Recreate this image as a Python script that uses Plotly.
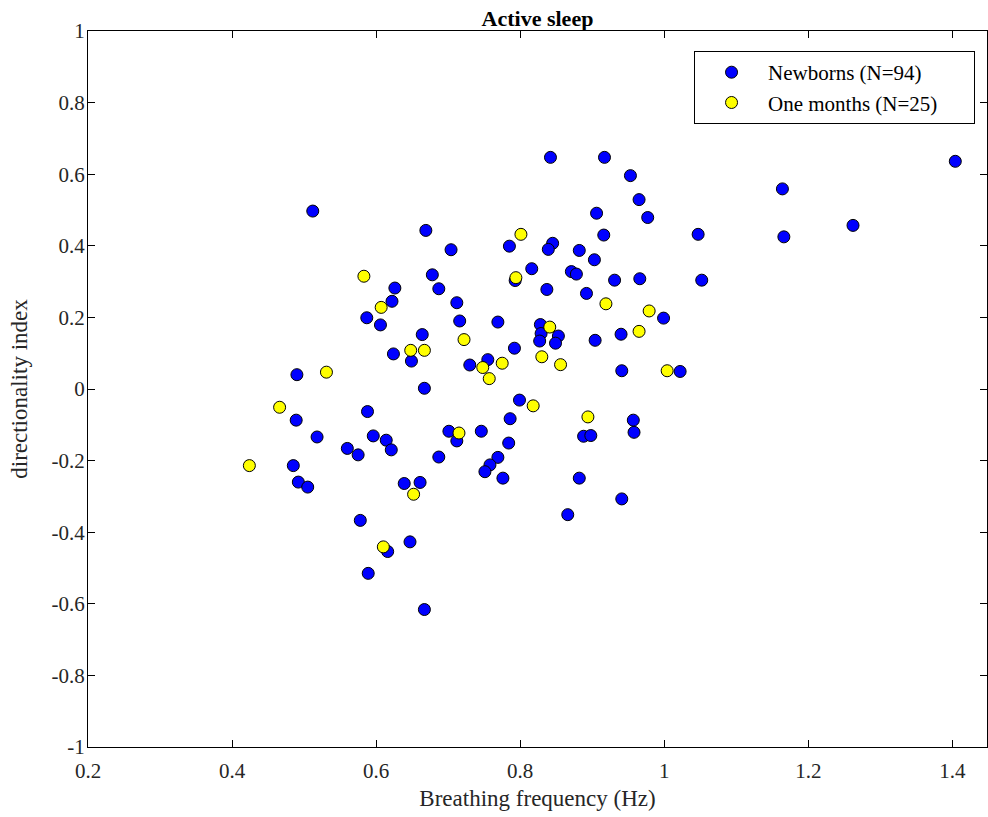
import plotly.graph_objects as go

# Newborns (N=94)
newborn_freq = [0.512, 0.669, 0.704, 0.678, 0.626, 0.687, 0.622, 0.712, 0.587, 0.606,
                0.716, 0.664, 0.624, 0.649, 0.730, 0.490, 0.667, 0.489, 0.588, 0.518,
                0.596, 0.614, 0.701, 0.560, 0.575, 0.621, 0.712, 0.687, 0.485, 0.492,
                0.505, 0.639, 0.661, 0.578, 0.616, 0.647, 0.589, 0.667, 0.842, 0.917,
                0.953, 0.965, 0.906, 0.977, 0.916, 0.785, 0.845, 0.839, 0.882, 0.903,
                0.816, 0.793, 0.871, 0.878, 0.837, 0.892, 0.931, 0.966, 0.999, 0.769,
                0.828, 0.829, 0.853, 0.904, 0.940, 0.827, 0.849, 0.792, 0.755, 0.941,
                1.022, 0.799, 0.786, 0.957, 0.958, 0.746, 0.784, 0.888, 0.898, 0.769,
                0.758, 0.751, 0.776, 0.882, 0.941, 0.866, 1.404, 1.164, 1.047, 1.166,
                1.262, 1.052]
newborn_di = [0.497, 0.443, 0.389, 0.319, 0.282, 0.280, 0.245, 0.241, 0.199, 0.179,
              0.190, 0.152, 0.098, 0.078, 0.067, 0.040, 0.002, -0.087, -0.063, -0.134,
              -0.131, -0.143, -0.118, -0.166, -0.184, -0.170, -0.145, -0.190, -0.214, -0.260,
              -0.274, -0.264, -0.261, -0.367, -0.454, -0.427, -0.515, -0.616, 0.647, 0.647,
              0.596, 0.529, 0.491, 0.479, 0.430, 0.399, 0.407, 0.390, 0.387, 0.361,
              0.336, 0.303, 0.328, 0.321, 0.278, 0.267, 0.304, 0.308, 0.198, 0.187,
              0.180, 0.155, 0.148, 0.136, 0.153, 0.134, 0.128, 0.114, 0.082, 0.051,
              0.049, -0.031, -0.083, -0.087, -0.121, -0.118, -0.151, -0.132, -0.130, -0.191,
              -0.212, -0.231, -0.249, -0.249, -0.307, -0.351, 0.636, 0.559, 0.432, 0.425,
              0.457, 0.304]

# One months (N=25)
month_freq = [0.583, 0.607, 0.722, 0.648, 0.667, 0.531, 0.466, 0.715, 0.424, 0.652,
              0.610, 0.801, 0.794, 0.919, 0.979, 0.841, 0.965, 0.748, 0.775, 0.757,
              0.830, 0.856, 1.004, 0.818, 0.894]
month_di = [0.315, 0.228, 0.138, 0.108, 0.108, 0.047, -0.051, -0.123, -0.214, -0.294,
            -0.441, 0.432, 0.311, 0.238, 0.218, 0.173, 0.161, 0.060, 0.072, 0.029,
            0.090, 0.068, 0.051, -0.047, -0.078]

x_ticks = [0.2, 0.4, 0.6, 0.8, 1.0, 1.2, 1.4]
x_tick_text = ["0.2", "0.4", "0.6", "0.8", "1", "1.2", "1.4"]
y_ticks = [-1, -0.8, -0.6, -0.4, -0.2, 0, 0.2, 0.4, 0.6, 0.8, 1]
y_tick_text = ["-1", "-0.8", "-0.6", "-0.4", "-0.2", "0", "0.2", "0.4", "0.6", "0.8", "1"]

FONT = "Liberation Serif, Times New Roman, serif"
PAD = "\u2003\u2002"  # invisible padding inside the legend box

fig = go.Figure()
fig.add_trace(go.Scatter(
    x=newborn_freq, y=newborn_di, mode="markers", name="Newborns (N=94)" + PAD,
    marker=dict(size=12, color="#0000ff", line=dict(color="black", width=1)),
))
fig.add_trace(go.Scatter(
    x=month_freq, y=month_di, mode="markers", name="One months (N=25)" + PAD,
    marker=dict(size=12, color="#ffff00", line=dict(color="black", width=1)),
))

axis_common = dict(
    showline=True, linecolor="black", linewidth=1, mirror="allticks",
    ticks="inside", ticklen=7, tickcolor="black", showgrid=False, zeroline=False,
    tickfont=dict(family=FONT, size=21, color="#262626"), automargin=False,
)

fig.update_layout(
    width=988, height=817,
    margin=dict(l=88, r=1, t=31, b=70),
    paper_bgcolor="white", plot_bgcolor="white",
    title=dict(text="<b>Active sleep</b>", x=0.5, xref="paper", xanchor="center",
               y=1, yref="paper", yanchor="bottom", pad=dict(b=5),
               font=dict(family=FONT, size=22, color="black")),
    xaxis=dict(range=[0.2, 1.448], tickvals=x_ticks, ticktext=x_tick_text,
               ticklabelstandoff=5,
               title=dict(text="Breathing frequency (Hz)", standoff=7,
                          font=dict(family=FONT, size=23, color="#262626")),
               **axis_common),
    yaxis=dict(range=[-1, 1], tickvals=y_ticks, ticktext=y_tick_text,
               ticklabelstandoff=-2,
               title=dict(text="directionality index", standoff=17,
                          font=dict(family=FONT, size=23, color="#262626")),
               **axis_common),
    legend=dict(x=0.9867, xanchor="right", y=0.972, yanchor="top",
                bgcolor="white", bordercolor="black", borderwidth=1,
                font=dict(family=FONT, size=21, color="black"),
                itemwidth=63, tracegroupgap=0),
    showlegend=True,
)

fig.write_html("out.html", config={"displayModeBar": False},
               post_script="document.body.style.margin='0';")
